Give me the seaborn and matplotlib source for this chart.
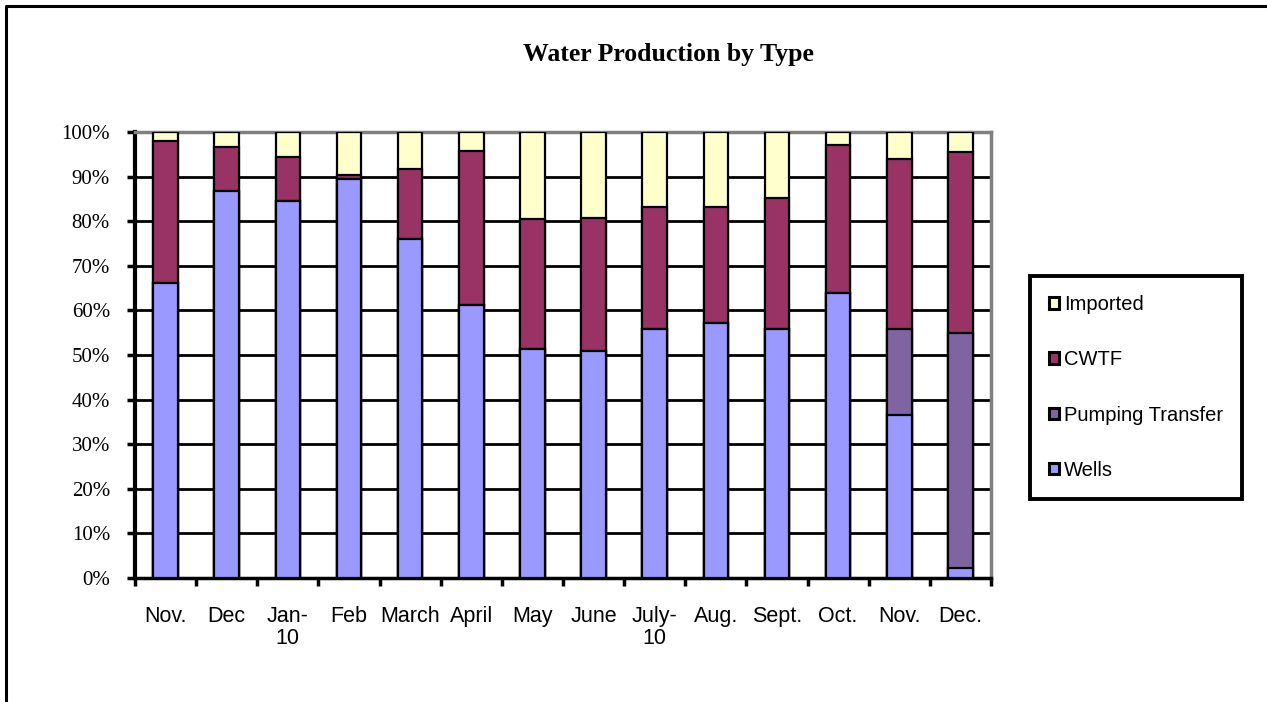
import matplotlib
matplotlib.use("Agg")
import matplotlib.pyplot as plt
import matplotlib.patches as mpatches
from matplotlib.lines import Line2D
import seaborn as sns
import numpy as np
import pandas as pd

# data (percent of monthly production)
months = ["Nov.", "Dec", "Jan-\n10", "Feb", "March", "April", "May", "June",
          "July-\n10", "Aug.", "Sept.", "Oct.", "Nov.", "Dec."]
wells = [66.1, 86.8, 84.6, 89.4, 76.0, 61.2, 51.3, 51.0, 55.9, 57.2, 55.9, 63.9, 36.6, 2.2]
pumping = [0, 0, 0, 0, 0, 0, 0, 0, 0, 0, 0, 0, 19.3, 52.8]
cwtf = [31.9, 9.8, 9.8, 1.0, 15.7, 34.5, 29.2, 29.8, 27.3, 26.0, 29.4, 33.2, 38.0, 40.6]
imported = [100 - w - p - c for w, p, c in zip(wells, pumping, cwtf)]

series = ["Wells", "Pumping Transfer", "CWTF", "Imported"]
colors = {"Wells": "#9999FF", "Pumping Transfer": "#8064A2",
          "CWTF": "#993366", "Imported": "#FFFFCC"}

df = pd.DataFrame({"idx": np.arange(len(months)), "Wells": wells,
                   "Pumping Transfer": pumping, "CWTF": cwtf, "Imported": imported})

sns.set_style("white", {"text.color": "black", "xtick.color": "black",
                        "ytick.color": "black", "axes.edgecolor": "black",
                        "xtick.bottom": True, "ytick.left": True})

W, H = 1267, 702
fig = plt.figure(figsize=(W / 100, H / 100), dpi=100)
ax = fig.add_axes([135 / W, 1 - 578 / H, 856 / W, 446 / H])

# stacked bars: draw cumulative heights from tallest to shortest
cum = df[series].cumsum(axis=1)
for s in series[::-1]:
    sns.barplot(x=df["idx"], y=cum[s], color=colors[s], width=0.4,
                edgecolor="black", linewidth=1.6, saturation=1, ax=ax, zorder=3)

ax.set_ylim(0, 100)
ax.set_xlim(-0.5, len(months) - 0.5)
ax.set_yticks(np.arange(0, 101, 10))
ax.set_yticklabels([f"{v}%" for v in range(0, 101, 10)],
                   fontfamily="Liberation Serif", fontsize=15, color="black")
ax.set_xticks(np.arange(len(months)))
ax.set_xticklabels(months, fontfamily="Liberation Sans", fontsize=15.5,
                   linespacing=1.1, color="black")
ax.set_xticks(np.arange(len(months) + 1) - 0.5, minor=True)
ax.tick_params(axis="x", which="major", bottom=True, length=0, pad=20)
ax.tick_params(axis="x", which="minor", bottom=True, length=6, width=2.5, color="black")
ax.tick_params(axis="y", left=True, length=6, width=2.5, color="black", pad=12)
ax.set_xlabel("")
ax.set_ylabel("")

ax.yaxis.grid(True, color="black", linewidth=2, zorder=0)
ax.set_axisbelow(True)
ax.spines["left"].set_linewidth(3)
ax.spines["left"].set_color("black")
ax.spines["bottom"].set_linewidth(2.5)
ax.spines["bottom"].set_color("black")
for side in ["top", "right"]:
    ax.spines[side].set_linewidth(2.5)
    ax.spines[side].set_color("#808080")
    ax.spines[side].set_visible(True)

fig.text(668 / W, 1 - 61.5 / H, "Water Production by Type", ha="center", va="baseline",
         fontfamily="Liberation Serif", fontweight="bold", fontsize=18.5, color="black")

handles = [mpatches.Patch(facecolor=colors[s], edgecolor="black", linewidth=2.2, label=s)
           for s in series[::-1]]
leg = fig.legend(handles=handles, loc="upper left",
                 bbox_to_anchor=(1030 / W, 1 - 276 / H),
                 prop={"family": "Liberation Sans", "size": 14.5},
                 frameon=True, fancybox=False, framealpha=1,
                 handlelength=0.5, handleheight=0.5,
                 handletextpad=0.25, labelspacing=1.8, borderpad=0.95,
                 borderaxespad=0)
leg.get_frame().set_edgecolor("black")
leg.get_frame().set_linewidth(2.8)
for t in leg.get_texts():
    t.set_color("black")

# outer chart border (top and left edges visible)
fig.add_artist(Line2D([6 / W, 6 / W, 1.0], [0, 1 - 6 / H, 1 - 6 / H],
                      transform=fig.transFigure, color="black", linewidth=2.2))

fig.savefig("out.png", dpi=100)
